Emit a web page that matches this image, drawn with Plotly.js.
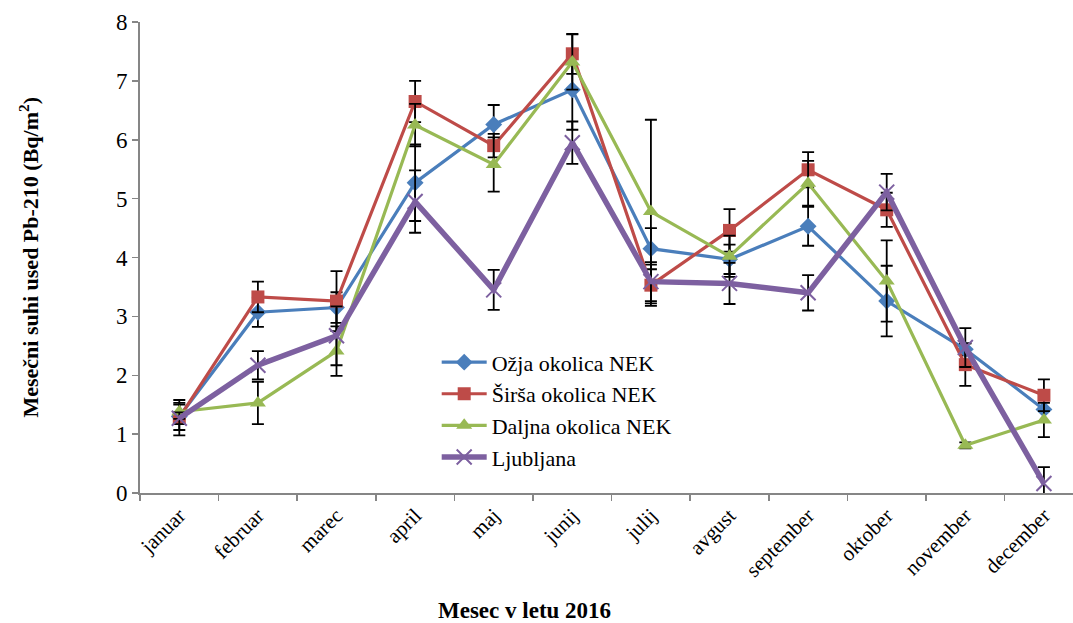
<!DOCTYPE html>
<html>
<head>
<meta charset="utf-8">
<script src="https://cdn.plot.ly/plotly-3.0.1.min.js"></script>
<style>
html,body{margin:0;padding:0;background:#fff;overflow:hidden;}
#chart{width:1073px;height:623px;}
</style>
</head>
<body>
<div id="chart"></div>
<script>
const months = ["januar","februar","marec","april","maj","junij","julij","avgust","september","oktober","november","december"];

const seriesNames = ["Ožja okolica NEK","Širša okolica NEK","Daljna okolica NEK","Ljubljana"];

const ozja   = [1.30, 3.07, 3.15, 5.27, 6.26, 6.85, 4.15, 3.97, 4.53, 3.26, 2.44, 1.42];
const sirsa  = [1.28, 3.33, 3.26, 6.65, 5.90, 7.46, 3.53, 4.46, 5.49, 4.81, 2.18, 1.66];
const daljna = [1.38, 1.53, 2.41, 6.25, 5.58, 7.32, 4.78, 4.02, 5.26, 3.60, 0.81, 1.24];
const ljub   = [1.27, 2.17, 2.67, 4.95, 3.45, 5.95, 3.59, 3.56, 3.40, 5.11, 2.47, 0.16];

const ozjaErr   = [0.23, 0.25, 0.26, 0.65, 0.33, 0.68, 0.35, 0.25, 0.33, 0.60, 0.10, 0.00];
const sirsaErr  = [0.30, 0.26, 0.51, 0.35, 0.20, 0.34, 0.35, 0.36, 0.30, 0.29, 0.36, 0.27];
const daljnaErr = [0.12, 0.36, 0.42, 0.36, 0.46, 0.47, 1.56, 0.35, 0.38, 0.69, 0.05, 0.29];
const ljubErr   = [0.10, 0.24, 0.50, 0.53, 0.34, 0.36, 0.33, 0.35, 0.30, 0.31, 0.33, 0.28];

const colors = ["#4A7EBB", "#BE4B48", "#98B954", "#7D60A0"];

const FONT = "Liberation Serif";

function errBar(arr){
  return {type:"data", array: arr, visible:true, color:"#000000", thickness:1.8, width:6};
}

const traces = [
  {x: months, y: ozja, name: seriesNames[0], type:"scatter", mode:"lines+markers",
   line:{color:colors[0], width:3.2},
   marker:{symbol:"diamond", size:13, color:colors[0]},
   error_y: errBar(ozjaErr)},
  {x: months, y: sirsa, name: seriesNames[1], type:"scatter", mode:"lines+markers",
   line:{color:colors[1], width:3.2},
   marker:{symbol:"square", size:13, color:colors[1]},
   error_y: errBar(sirsaErr)},
  {x: months, y: daljna, name: seriesNames[2], type:"scatter", mode:"lines+markers",
   line:{color:colors[2], width:3.2},
   marker:{symbol:"triangle-up", size:14, color:colors[2]},
   error_y: errBar(daljnaErr)},
  {x: months, y: ljub, name: seriesNames[3], type:"scatter", mode:"lines+markers",
   line:{color:colors[3], width:5.5},
   marker:{symbol:"x-thin", size:15, color:colors[3], line:{color:colors[3], width:2}},
   error_y: errBar(ljubErr)}
];

const layout = {
  width: 1073, height: 623,
  margin: {l:140, r:0, t:22, b:130, pad:0},
  paper_bgcolor:"#ffffff", plot_bgcolor:"#ffffff",
  font: {family: FONT, color:"#000000"},
  showlegend: true,
  legend: {
    x: 0.318, y: 0.322, xanchor:"left", yanchor:"top",
    bgcolor:"rgba(0,0,0,0)", borderwidth:0,
    font:{family:FONT, size:22, color:"#000"},
    itemwidth: 45,
    tracegroupgap: 0
  },
  xaxis: {
    type:"category", range:[-0.5, 11.37],
    tickson:"boundaries", ticks:"outside", ticklen:6, tickwidth:1.5, tickcolor:"#868686",
    showline:true, linecolor:"#868686", linewidth:2,
    showgrid:false, zeroline:false,
    tickangle:-45, tickfont:{family:FONT, size:21, color:"#000"}
  },
  yaxis: {
    range:[0,8], dtick:1, tick0:0,
    ticks:"outside", ticklen:6, tickwidth:1.5, tickcolor:"#868686",
    showline:true, linecolor:"#868686", linewidth:2,
    showgrid:false, zeroline:false,
    tickfont:{family:FONT, size:23, color:"#000"}
  },
  annotations: [
    {text:"<b>Mesec v letu 2016</b>", xref:"paper", yref:"paper",
     x:0.4126, y:-0.25, xanchor:"center", yanchor:"middle", showarrow:false,
     font:{family:FONT, size:23, color:"#000"}},
    {text:"<b>Mesečni suhi used Pb-210 (Bq/m<sup>2</sup>)</b>", xref:"paper", yref:"paper",
     x:-0.12, y:0.5, xanchor:"center", yanchor:"middle", textangle:-90, showarrow:false,
     font:{family:FONT, size:22, color:"#000"}}
  ]
};

Plotly.newPlot("chart", traces, layout, {displayModeBar:false, staticPlot:true});
</script>
</body>
</html>
